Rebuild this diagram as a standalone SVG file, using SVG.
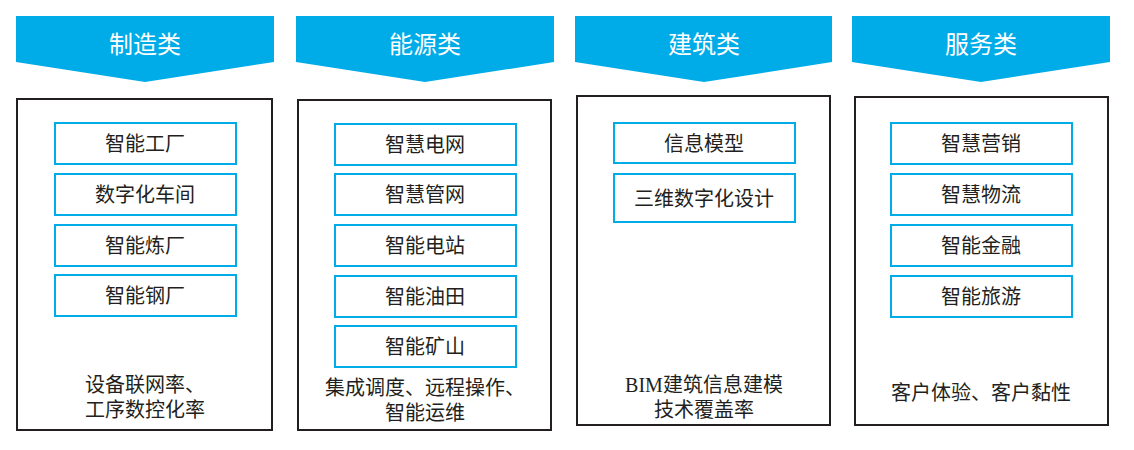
<svg xmlns="http://www.w3.org/2000/svg" width="1134" height="450" viewBox="0 0 1134 450">
<style>
.ban{fill:#00ace8}
.bt{fill:#fff;font-family:"Noto Sans CJK SC",sans-serif;font-size:24px;text-anchor:middle}
.box{fill:#fff;stroke:#231f20;stroke-width:2}
.in{fill:#fff;stroke:#00ace8;stroke-width:2}
.t{fill:#231f20;font-family:"Liberation Serif","Noto Sans CJK SC",sans-serif;font-size:20px;text-anchor:middle}
</style>
<rect width="1134" height="450" fill="#fff"/>
<g id="cat1">
<polygon class="ban" points="16,16 274,16 274,62 145,82 16,62"/>
<text class="bt" x="145" y="53">制造类</text>
<rect class="box" x="17" y="99" width="255" height="331"/>
<rect class="in" x="55" y="123" width="181" height="41"/><text class="t" x="145" y="151">智能工厂</text>
<rect class="in" x="55" y="174" width="181" height="41"/><text class="t" x="145" y="202">数字化车间</text>
<rect class="in" x="55" y="225" width="181" height="41"/><text class="t" x="145" y="253">智能炼厂</text>
<rect class="in" x="55" y="275" width="181" height="41"/><text class="t" x="145" y="303">智能钢厂</text>
<text class="t" x="145" y="392">设备联网率、</text>
<text class="t" x="145" y="417">工序数控化率</text>
</g>
<g id="cat2">
<polygon class="ban" points="296,16 554,16 554,62 425,82 296,62"/>
<text class="bt" x="425" y="53">能源类</text>
<rect class="box" x="298" y="100" width="253" height="330"/>
<rect class="in" x="335" y="124" width="181" height="41"/><text class="t" x="425" y="152">智慧电网</text>
<rect class="in" x="335" y="174" width="181" height="41"/><text class="t" x="425" y="202">智慧管网</text>
<rect class="in" x="335" y="225" width="181" height="41"/><text class="t" x="425" y="253">智能电站</text>
<rect class="in" x="335" y="276" width="181" height="41"/><text class="t" x="425" y="304">智能油田</text>
<rect class="in" x="335" y="326" width="181" height="41"/><text class="t" x="425" y="354">智能矿山</text>
<text class="t" x="425" y="395">集成调度、远程操作、</text>
<text class="t" x="425" y="420">智能运维</text>
</g>
<g id="cat3">
<polygon class="ban" points="575,16 832,16 832,62 704,82 575,62"/>
<text class="bt" x="704" y="53">建筑类</text>
<rect class="box" x="577" y="96" width="253" height="329"/>
<rect class="in" x="614" y="123" width="181" height="40"/><text class="t" x="704" y="151">信息模型</text>
<rect class="in" x="614" y="174" width="181" height="48"/><text class="t" x="704" y="206">三维数字化设计</text>
<text class="t" x="704" y="392">BIM建筑信息建模</text>
<text class="t" x="704" y="417">技术覆盖率</text>
</g>
<g id="cat4">
<polygon class="ban" points="852,16 1110,16 1110,62 981,82 852,62"/>
<text class="bt" x="981" y="53">服务类</text>
<rect class="box" x="855" y="97" width="253" height="328"/>
<rect class="in" x="891" y="123" width="181" height="41"/><text class="t" x="981" y="151">智慧营销</text>
<rect class="in" x="891" y="174" width="181" height="41"/><text class="t" x="981" y="202">智慧物流</text>
<rect class="in" x="891" y="225" width="181" height="41"/><text class="t" x="981" y="253">智能金融</text>
<rect class="in" x="891" y="276" width="181" height="41"/><text class="t" x="981" y="304">智能旅游</text>
<text class="t" x="981" y="400">客户体验、客户黏性</text>
</g>
<g id="connectors"/>
</svg>
